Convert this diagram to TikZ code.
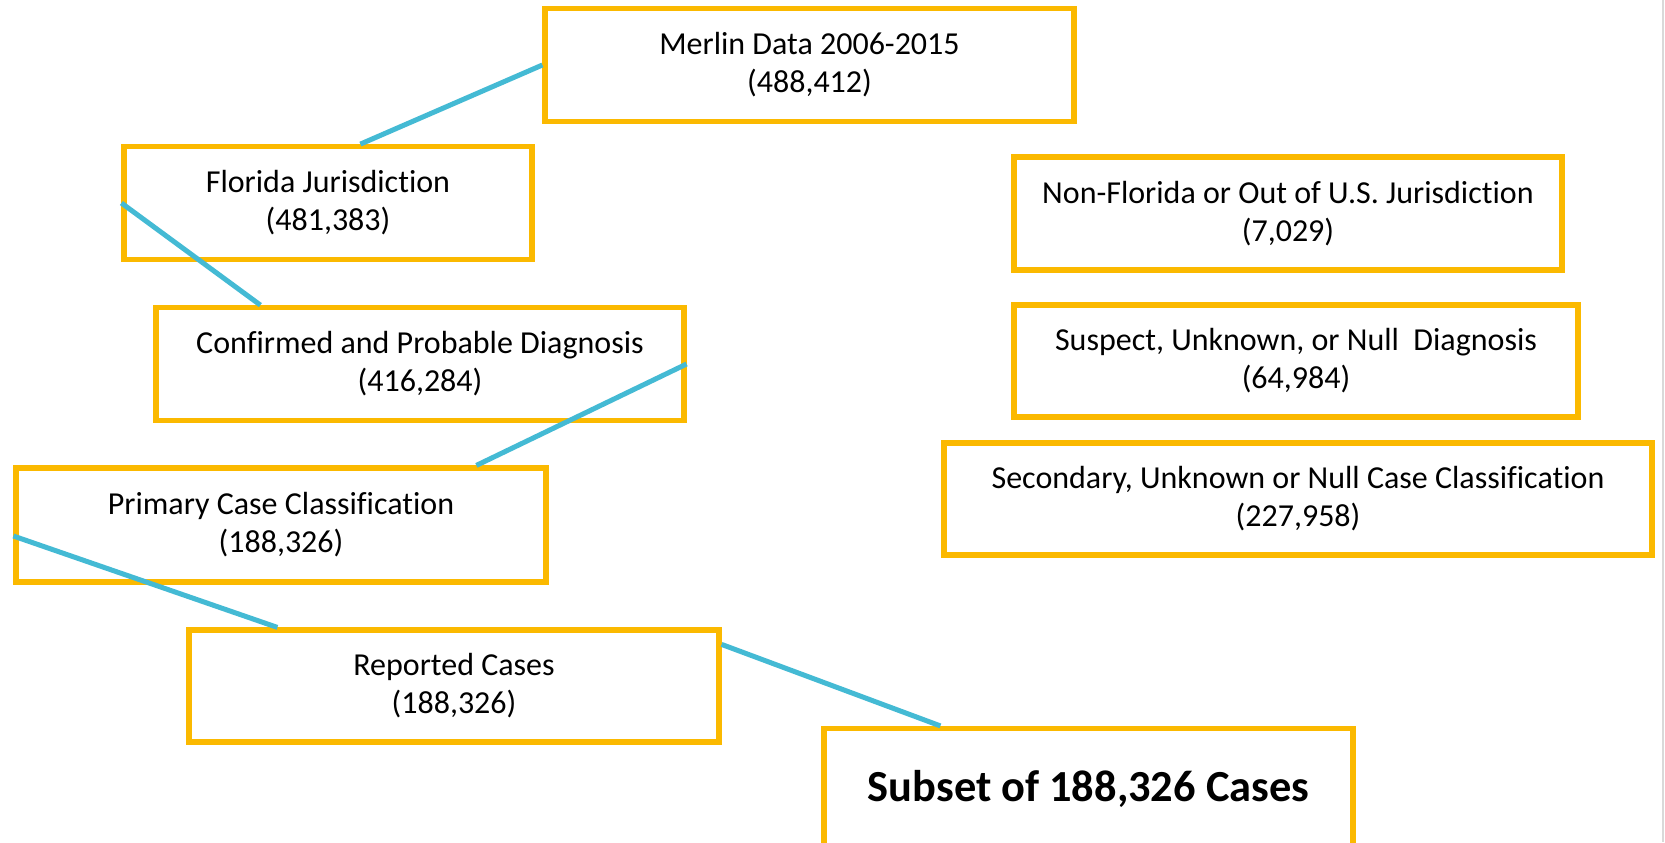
\documentclass[tikz,border=0pt]{standalone}
\usepackage{fontspec}
\setmainfont{Carlito}[RawFeature=-liga]
\usetikzlibrary{calc}
\definecolor{boxyellow}{HTML}{FBB900}
\definecolor{linkblue}{HTML}{44BAD4}
\tikzset{
  flowbox/.style={draw=boxyellow, line width=2.6pt, fill=white, rectangle,
    align=center, inner sep=0pt, font=\fontsize{16}{19}\selectfont},
  linkline/.style={draw=linkblue, line width=2.5pt}
}
\begin{document}
\begin{tikzpicture}[x=0.5pt,y=-0.5pt]
\useasboundingbox (0,0) rectangle (1665,842);
\clip (0,0) rectangle (1665,842);
\fill[white] (0,0) rectangle (1665,842);
\draw[gray!30, line width=1pt] (1663,0) -- (1663,842);
% boxes
\node[flowbox, minimum width=264.5pt, minimum height=56.3pt] (md) at (809.5,65) {Merlin Data 2006-2015\\(488,412)};
\node[flowbox, minimum width=204pt, minimum height=56.3pt] (fl) at (328,203) {Florida Jurisdiction\\(481,383)};
\node[flowbox, minimum width=264pt, minimum height=56.3pt] (cf) at (420,364) {Confirmed and Probable Diagnosis\\(416,284)};
\node[flowbox, minimum width=265pt, minimum height=57pt] (pr) at (281,525) {Primary Case Classification\\(188,326)};
\node[flowbox, minimum width=265pt, minimum height=56pt] (rp) at (454,686) {Reported Cases\\(188,326)};
\node[flowbox, minimum width=264.5pt, minimum height=60pt, font=\fontsize{22.2}{26}\selectfont\bfseries] (sb) at (1088.5,788.5) {Subset of 188,326 Cases};
\node[flowbox, minimum width=274pt, minimum height=56.5pt] (nf) at (1288,213.5) {Non-Florida or Out of U.S. Jurisdiction\\(7,029)};
\node[flowbox, minimum width=282pt, minimum height=56pt] (su) at (1296,361) {Suspect, Unknown, or Null\ \ Diagnosis\\(64,984)};
\node[flowbox, minimum width=354pt, minimum height=56pt] (se) at (1298,499) {Secondary, Unknown or Null Case Classification\\(227,958)};
% connectors
\draw[linkline] (md.west) -- ($(fl.north west)+(239,0)$);
\draw[linkline] (fl.west) -- ($(cf.north west)+(107,0)$);
\draw[linkline] (cf.east) -- ($(pr.north west)+(463,0)$);
\draw[linkline] ($(pr.west)+(0,11)$) -- ($(rp.north west)+(91,0)$);
\draw[linkline] ($(rp.north east)+(0,17)$) -- ($(sb.north west)+(119,0)$);
\end{tikzpicture}
\end{document}
